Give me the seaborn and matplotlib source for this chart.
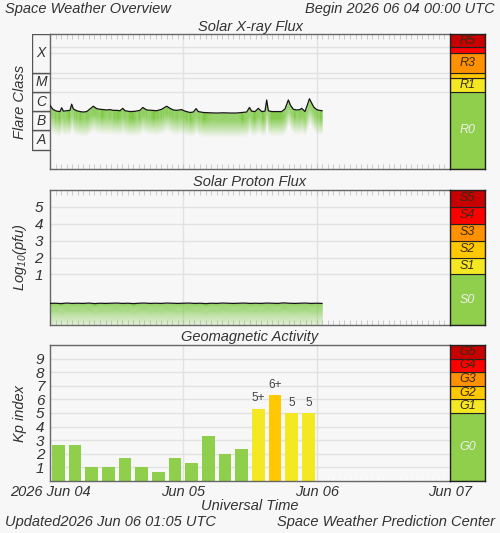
import matplotlib
matplotlib.use("Agg")
import numpy as np
import pandas as pd
import matplotlib.pyplot as plt
from matplotlib.ticker import MultipleLocator, NullLocator, FixedLocator
import seaborn as sns

# ------------------------------------------------------------------ data
# hours since 2026-06-04 00:00 UTC
xray_hours = [0.0, 0.3, 0.6, 1.2, 1.8, 2.1, 2.4, 3.0, 3.6, 3.9, 4.2, 4.8, 5.4, 6.0,
              6.6, 7.2, 7.8, 8.4, 9.0, 9.6, 10.2, 10.8, 11.4, 12.0, 12.6, 13.1, 13.5,
              14.4, 15.3, 16.2, 16.7, 17.4, 18.3, 19.2, 20.1, 21.0, 21.6, 22.2, 22.8,
              23.7, 24.3, 25.2, 25.8, 26.3, 26.7, 27.6, 28.8, 30.0, 31.2, 32.4, 33.6,
              34.5, 35.4, 35.9, 36.3, 36.9, 37.5, 38.1, 38.7, 39.0, 39.3, 39.9, 40.8,
              41.7, 42.3, 42.9, 43.3, 43.8, 44.4, 45.0, 45.3, 45.9, 46.3, 46.7, 47.1,
              47.5, 48.0, 48.5, 49.0]
xray_flux = [2.0e-6, 1.5e-6, 1.2e-6, 1.0e-6, 0.95e-6, 1.5e-6, 1.0e-6, 1.05e-6, 1.1e-6,
             2.3e-6, 1.3e-6, 1.05e-6, 0.95e-6, 0.9e-6, 0.95e-6, 1.3e-6, 1.8e-6, 1.35e-6,
             1.25e-6, 1.2e-6, 1.15e-6, 1.2e-6, 1.1e-6, 1.1e-6, 1.05e-6, 1.4e-6, 1.05e-6,
             0.95e-6, 0.98e-6, 1.1e-6, 1.55e-6, 1.15e-6, 1.1e-6, 1.05e-6, 1.25e-6,
             1.8e-6, 1.4e-6, 1.15e-6, 1.1e-6, 1.2e-6, 1.0e-6, 0.85e-6, 0.9e-6, 1.35e-6,
             0.95e-6, 0.85e-6, 0.82e-6, 0.8e-6, 0.82e-6, 0.8e-6, 0.8e-6, 0.85e-6,
             0.9e-6, 1.55e-6, 1.0e-6, 0.95e-6, 1.4e-6, 0.95e-6, 1.0e-6, 3.8e-6, 1.05e-6,
             0.95e-6, 0.95e-6, 0.95e-6, 1.3e-6, 3.8e-6, 2.0e-6, 1.25e-6, 1.15e-6,
             1.2e-6, 1.4e-6, 0.95e-6, 2.0e-6, 4.4e-6, 2.6e-6, 1.6e-6, 1.2e-6, 1.1e-6,
             1.05e-6]

proton_hours = list(range(50))
proton_log = [-0.72, -0.71, -0.73, -0.70, -0.72, -0.71, -0.72, -0.70, -0.73, -0.71,
              -0.72, -0.71, -0.70, -0.72, -0.71, -0.73, -0.71, -0.70, -0.72, -0.71,
              -0.72, -0.70, -0.71, -0.72, -0.71, -0.70, -0.72, -0.71, -0.73, -0.71,
              -0.72, -0.70, -0.71, -0.72, -0.71, -0.70, -0.72, -0.71, -0.72, -0.70,
              -0.71, -0.72, -0.69, -0.71, -0.72, -0.71, -0.70, -0.72, -0.71, -0.72]

kp_hours = [1.5, 4.5, 7.5, 10.5, 13.5, 16.5, 19.5, 22.5, 25.5, 28.5, 31.5, 34.5,
            37.5, 40.5, 43.5, 46.5]
kp_values = [2.67, 2.67, 1.0, 1.0, 1.67, 1.0, 0.67, 1.67, 1.33, 3.33, 2.0, 2.33,
             5.33, 6.33, 5.0, 5.0]
kp_text = ["", "", "", "", "", "", "", "", "", "", "", "", "5+", "6+", "5", "5"]

day_ticks = [0, 24, 48, 72]
day_labels = ["2026 Jun 04", "Jun 05", "Jun 06", "Jun 07"]

flare_classes = ["A", "B", "C", "M", "X"]
flare_bounds = [1e-8, 1e-7, 1e-6, 1e-5, 1e-4, 1e-2]

r_labels = ["R0", "R1", "", "R3", "", "R5"]
r_bounds = [1e-9, 1e-5, 5e-5, 1e-4, 1e-3, 2e-3, 1e-2]
s_labels = ["S0", "S1", "S2", "S3", "S4", "S5"]
s_bounds = [-2, 1, 2, 3, 4, 5, 6]
g_labels = ["G0", "G1", "G2", "G3", "G4", "G5"]
g_bounds = [0, 5, 6, 7, 8, 9, 10]
scale_colors = ["#8fcf4c", "#f4e823", "#ffc800", "#ff9000", "#ff0000", "#c80000"]

# ------------------------------------------------------------------ style
BG = "#f7f7f7"
GRID = "#e2e2e2"
TXT = "#333333"
FILL = "#76c63a"
sns.set_style("white")
plt.rcParams["font.family"] = ["Liberation Sans", "DejaVu Sans"]
plt.rcParams["font.style"] = "italic"
plt.rcParams["mathtext.fontset"] = "custom"
plt.rcParams["mathtext.rm"] = "Liberation Sans:italic"
plt.rcParams["mathtext.it"] = "Liberation Sans:italic"
plt.rcParams["text.color"] = TXT

W, H = 500, 533
fig = plt.figure(figsize=(W / 100, H / 100), dpi=100, facecolor=BG)


def add_ax(l, t, r, b):
    return fig.add_axes([l / W, 1 - b / H, (r - l) / W, (b - t) / H])


def ftext(x, y, s, **kw):
    kw.setdefault("fontsize", 10.5)
    kw.setdefault("va", "center")
    fig.text(x / W, 1 - y / H, s, style="italic", **kw)


def style_main(ax, ylim, grid_y, log=False):
    ax.set_facecolor(BG)
    if log:
        ax.set_yscale("log")
    ax.set_xlim(0, 72)
    ax.set_ylim(*ylim)
    for v in [24, 48]:
        ax.axvline(v, color=GRID, lw=1, zorder=0)
    for v in grid_y:
        ax.axhline(v, color=GRID, lw=1, zorder=0)
    for s in ax.spines.values():
        s.set_color("#666666")
        s.set_linewidth(1)
    ax.spines["right"].set_visible(False)
    ax.xaxis.set_major_locator(FixedLocator(day_ticks))
    ax.xaxis.set_minor_locator(MultipleLocator(1))
    ax.set_xlabel("")
    ax.set_ylabel("")


def scale_bar(ax, bounds, labels, log=False):
    ax.set_facecolor(BG)
    if log:
        ax.set_yscale("log")
    ax.set_xlim(0, 1)
    ax.set_ylim(bounds[0], bounds[-1])
    for i, (lo, hi) in enumerate(zip(bounds[:-1], bounds[1:])):
        ax.axhspan(lo, hi, facecolor=scale_colors[i], edgecolor="#222222", linewidth=0.8)
        if labels[i]:
            yc = np.sqrt(lo * hi) if log else (lo + hi) / 2
            ax.text(0.5, yc, labels[i], ha="center", va="center", fontsize=9,
                    style="italic", color="#eeeeee" if i == 0 else "#3a2a1a")
    ax.xaxis.set_major_locator(NullLocator())
    ax.yaxis.set_major_locator(NullLocator())
    ax.yaxis.set_minor_locator(NullLocator())
    for s in ax.spines.values():
        s.set_color("#222222")
        s.set_linewidth(1)


# ------------------------------------------------------------------ X-ray panel
ax1 = add_ax(50, 34, 450, 169)
ax1.set_yscale("log")
flux = np.array(xray_flux)
lf = np.log10(flux)
nb = 24
depth = 1.25
for k in range(nb):
    f0, f1 = k / nb, (k + 1) / nb
    a = 0.95 if f0 < 0.25 else 0.95 * (1 - (f0 - 0.25) / 0.75) ** 1.2
    ax1.fill_between(xray_hours, 10 ** (lf - depth * f0), 10 ** (lf - depth * f1),
                     color=FILL, alpha=a, lw=0, zorder=1)
sns.lineplot(x=xray_hours, y=xray_flux, ax=ax1, color="#151515", lw=0.9, zorder=3)
style_main(ax1, (1e-9, 1e-2), r_bounds[1:-1], log=True)
ax1.yaxis.set_major_locator(NullLocator())
ax1.yaxis.set_minor_locator(NullLocator())
ax1.tick_params(axis="x", which="both", direction="in", top=True, bottom=True,
                length=3.5, color="#c4c4c4", labelbottom=False)

axb = add_ax(32, 34, 50, 169)
axb.set_yscale("log")
axb.set_xlim(0, 1)
axb.set_ylim(1e-9, 1e-2)
for c, lo, hi in zip(flare_classes, flare_bounds[:-1], flare_bounds[1:]):
    axb.axhspan(lo, hi, facecolor=BG, edgecolor="#555555", linewidth=1)
    axb.text(0.5, np.sqrt(lo * hi), c, ha="center", va="center", fontsize=10,
             style="italic", color=TXT)
axb.axis("off")

sc1 = add_ax(450, 34, 485, 169)
scale_bar(sc1, r_bounds, r_labels, log=True)

# ------------------------------------------------------------------ proton panel
ax2 = add_ax(50, 190, 450, 325)
pl = np.array(proton_log)
depth2 = pl + 2.0
for k in range(nb):
    f0, f1 = k / nb, (k + 1) / nb
    a = 0.95 - 0.83 * f0 ** 0.8
    ax2.fill_between(proton_hours, pl - depth2 * f0, pl - depth2 * f1,
                     color=FILL, alpha=a, lw=0, zorder=1)
sns.lineplot(x=proton_hours, y=proton_log, ax=ax2, color="#151515", lw=0.9, zorder=3)
style_main(ax2, (-2, 6), [1, 2, 3, 4, 5])
ax2.set_yticks([1, 2, 3, 4, 5])
ax2.set_yticklabels(["1", "2", "3", "4", "5"], fontsize=11, color=TXT, style="italic")
ax2.tick_params(axis="y", length=0, pad=5)
ax2.tick_params(axis="x", which="both", direction="in", top=True, bottom=True,
                length=3.5, color="#c4c4c4", labelbottom=False)

sc2 = add_ax(450, 190, 485, 325)
scale_bar(sc2, s_bounds, s_labels)

# ------------------------------------------------------------------ Kp panel
ax3 = add_ax(50, 345, 450, 481)
kp_level = ["G0" if v < 5 else ("G1" if v < 6 else ("G2" if v < 7 else "G3"))
            for v in kp_values]
level_colors = dict(zip(g_labels, scale_colors))
kp_df = pd.DataFrame({"hour": kp_hours, "kp": kp_values, "level": kp_level})
sns.barplot(data=kp_df, x="hour", y="kp", hue="level", palette=level_colors,
            native_scale=True, width=0.76, dodge=False, saturation=1, legend=False,
            ax=ax3, zorder=2, linewidth=0)
for h, v, t in zip(kp_hours, kp_values, kp_text):
    if t:
        ax3.text(h, v + 0.3, t, ha="center", va="bottom", fontsize=8.5,
                 color="#444444", style="normal")
style_main(ax3, (0, 10), list(range(1, 10)))
ax3.set_yticks(list(range(1, 10)))
ax3.set_yticklabels([str(i) for i in range(1, 10)], fontsize=11, color=TXT,
                    style="italic")
ax3.tick_params(axis="y", length=0, pad=4)
ax3.set_xticks(day_ticks)
ax3.set_xticklabels(day_labels, fontsize=10.5, color=TXT, style="italic")
ax3.tick_params(axis="x", which="major", length=0, pad=3)
ax3.tick_params(axis="x", which="minor", direction="in", bottom=True, length=3,
                color="white")

sc3 = add_ax(450, 345, 485, 481)
scale_bar(sc3, g_bounds, g_labels)

# ------------------------------------------------------------------ texts
ftext(5, 9, "Space Weather Overview", ha="left")
ftext(495, 9, "Begin 2026 06 04 00:00 UTC", ha="right")
ftext(250, 27, "Solar X-ray Flux", ha="center")
ftext(250, 182, "Solar Proton Flux", ha="center")
ftext(250, 337, "Geomagnetic Activity", ha="center")
ftext(250, 506, "Universal Time", ha="center")
ftext(5, 522, "Updated2026 Jun 06 01:05 UTC", ha="left")
ftext(495, 522, "Space Weather Prediction Center", ha="right")
ftext(20, 101.5, "Flare Class", ha="center", rotation=90)
ftext(20, 257.5, "Log$_{10}$(pfu)", ha="center", rotation=90)
ftext(20, 413, "Kp index", ha="center", rotation=90)

fig.savefig("out.png", dpi=100, facecolor=BG)
